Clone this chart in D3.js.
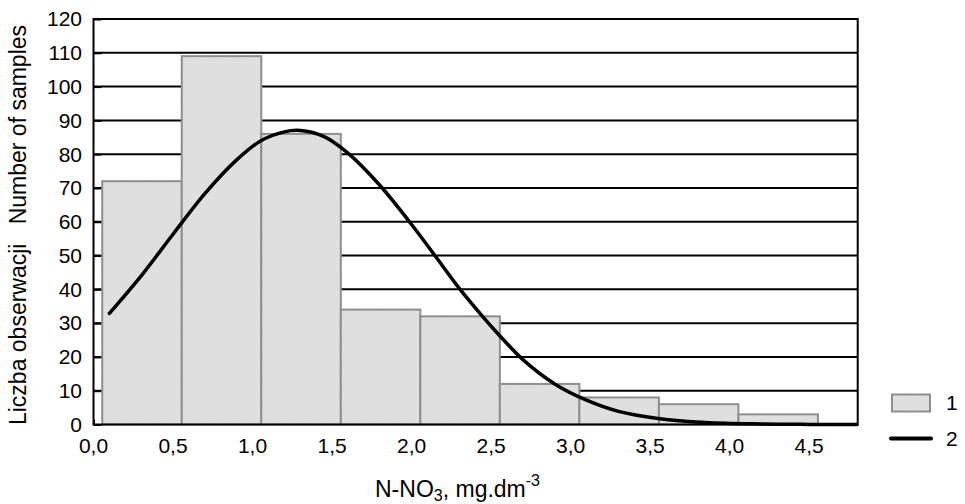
<!DOCTYPE html>
<html>
<head>
<meta charset="utf-8">
<script src="https://cdn.jsdelivr.net/npm/d3@7"></script>
<style>
  body { margin: 0; background: #fff; }
  svg { display: block; font-family: Arial, "Liberation Sans", sans-serif; }
</style>
</head>
<body>
<svg id="chart" width="965" height="504"></svg>
<script>
// histogram bins (N-NO3, mg/dm3) and counts
const binStarts = [0.055, 0.555, 1.055, 1.555, 2.055, 2.555, 3.055, 3.555, 4.055];
const binWidth = 0.5;
const counts = [72, 109, 86, 34, 32, 12, 8, 6, 3];

// fitted normal curve
const curveX = [0.10, 0.30, 0.50, 0.70, 0.90, 1.05, 1.20, 1.30, 1.45, 1.60, 1.80, 2.00, 2.15, 2.30, 2.45, 2.55, 2.70, 2.90, 3.10, 3.30, 3.55, 3.85, 4.20, 4.50, 4.80];
const curveY = [32.9, 44.0, 56.3, 68.3, 78.3, 83.9, 86.6, 87.0, 85.2, 80.3, 70.8, 59.2, 49.8, 40.3, 31.8, 26.5, 19.2, 12.0, 7.2, 3.9, 1.8, 0.6, 0.15, 0.03, 0];

const xTicks = [0, 0.5, 1, 1.5, 2, 2.5, 3, 3.5, 4, 4.5];
const yTicks = [0, 10, 20, 30, 40, 50, 60, 70, 80, 90, 100, 110, 120];
const legendLabels = ["1", "2"];

const svg = d3.select("#chart");

const x = d3.scaleLinear()
  .domain([0, 4.805])
  .range([93.5, 857.7]);

const y = d3.scaleLinear()
  .domain([0, 120])
  .range([424.5, 19]);

const fmt = d => d3.format(".1f")(d).replace(".", ",");

const defs = svg.append("defs");
const pat = defs.append("pattern")
  .attr("id", "hatch")
  .attr("patternUnits", "userSpaceOnUse")
  .attr("width", 3)
  .attr("height", 3);
pat.append("rect").attr("width", 3).attr("height", 3).attr("fill", "#e4e4e4");
pat.append("path").attr("d", "M0,3 L3,0").attr("stroke", "#d2d2d2").attr("stroke-width", 0.8);

// horizontal grid lines (behind the bars)
svg.append("g")
  .selectAll("line")
  .data(yTicks.filter(d => d > 0 && d < 120))
  .enter()
  .append("line")
  .attr("x1", x.range()[0])
  .attr("x2", x.range()[1])
  .attr("y1", d => y(d))
  .attr("y2", d => y(d))
  .attr("stroke", "#000")
  .attr("stroke-width", 2);

// y ticks, pointing in
svg.append("g")
  .attr("transform", `translate(${x.range()[0]},0)`)
  .call(d3.axisRight(y).tickValues(yTicks).tickSize(8).tickFormat(""))
  .call(g => g.select(".domain").remove())
  .call(g => g.selectAll("line").attr("stroke-width", 2));

// x ticks, pointing in
svg.append("g")
  .attr("transform", `translate(0,${y.range()[0]})`)
  .call(d3.axisTop(x).tickValues(xTicks).tickSize(5).tickFormat(""))
  .call(g => g.select(".domain").remove())
  .call(g => g.selectAll("line").attr("stroke-width", 2));

// bars
svg.append("g")
  .selectAll("rect")
  .data(counts)
  .enter()
  .append("rect")
  .attr("x", (d, i) => x(binStarts[i]))
  .attr("y", d => y(d))
  .attr("width", (d, i) => x(binStarts[i] + binWidth) - x(binStarts[i]))
  .attr("height", d => y(0) - y(d))
  .attr("fill", "url(#hatch)")
  .attr("stroke", "#8e8e8e")
  .attr("stroke-width", 2);

// frame
svg.append("rect")
  .attr("x", x.range()[0])
  .attr("y", y.range()[1])
  .attr("width", x.range()[1] - x.range()[0])
  .attr("height", y.range()[0] - y.range()[1])
  .attr("fill", "none")
  .attr("stroke", "#000")
  .attr("stroke-width", 2);

// normal curve
const line = d3.line()
  .x((d, i) => x(curveX[i]))
  .y(d => y(d))
  .curve(d3.curveCatmullRom.alpha(0.5));

svg.append("path")
  .datum(curveY)
  .attr("d", line)
  .attr("fill", "none")
  .attr("stroke", "#000")
  .attr("stroke-width", 3.5)
  .attr("stroke-linecap", "round");

// tick labels
svg.append("g")
  .selectAll("text")
  .data(yTicks)
  .enter()
  .append("text")
  .attr("x", 82)
  .attr("y", d => y(d))
  .attr("dy", "0.35em")
  .attr("text-anchor", "end")
  .attr("font-size", 21)
  .text(d => d);

svg.append("g")
  .selectAll("text")
  .data(xTicks)
  .enter()
  .append("text")
  .attr("x", d => x(d))
  .attr("y", 453)
  .attr("text-anchor", "middle")
  .attr("font-size", 21)
  .text(fmt);

// axis titles
const xt = svg.append("text")
  .attr("x", 375)
  .attr("y", 497)
  .attr("font-size", 23);
xt.append("tspan").text("N-NO");
xt.append("tspan").attr("dy", 4).attr("font-size", 16).text("3");
xt.append("tspan").attr("dy", -4).text(", mg.dm");
xt.append("tspan").attr("dy", -11).attr("font-size", 16).text("-3");

svg.append("text")
  .attr("transform", "translate(26,225) rotate(-90)")
  .attr("text-anchor", "middle")
  .attr("font-size", 23)
  .style("white-space", "pre")
  .text("Liczba obserwacji   Number of samples");

// legend
const lg = svg.append("g");
lg.append("rect")
  .attr("x", 892).attr("y", 394.5)
  .attr("width", 38).attr("height", 17)
  .attr("fill", "url(#hatch)")
  .attr("stroke", "#8e8e8e")
  .attr("stroke-width", 2);
lg.append("line")
  .attr("x1", 891).attr("x2", 931)
  .attr("y1", 438.5).attr("y2", 438.5)
  .attr("stroke", "#000")
  .attr("stroke-width", 4)
  .attr("stroke-linecap", "round");
lg.selectAll("text.lab")
  .data(legendLabels)
  .enter()
  .append("text")
  .attr("class", "lab")
  .attr("x", 946)
  .attr("y", (d, i) => i ? 438.5 : 403)
  .attr("dy", "0.35em")
  .attr("font-size", 21)
  .text(d => d);
</script>
</body>
</html>
